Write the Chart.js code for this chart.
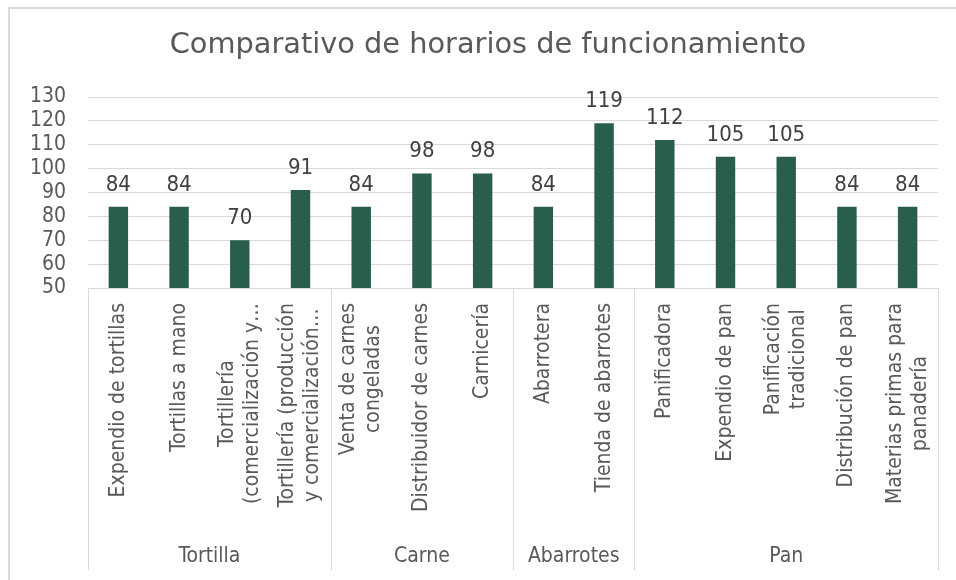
<!doctype html>
<html><head><meta charset="utf-8">
<title>Comparativo de horarios de funcionamiento</title>
<script src="https://cdn.jsdelivr.net/npm/chart.js"></script>
<style>
  html, body { margin: 0; padding: 0; background: #fff; overflow: hidden; }
  #wrap { width: 956px; height: 580px; position: relative; }
</style>
</head><body>
<div id="wrap"><canvas id="horarios"></canvas></div>
<script>
// categories (each entry is the lines of one label), groups and values
const categories = [
  ['Expendio de tortillas'],
  ['Tortillas a mano'],
  ['Tortillería', '(comercialización y…'],
  ['Tortillería (producción', 'y comercialización…'],
  ['Venta de carnes', 'congeladas'],
  ['Distribuidor de carnes'],
  ['Carnicería'],
  ['Abarrotera'],
  ['Tienda de abarrotes'],
  ['Panificadora'],
  ['Expendio de pan'],
  ['Panificación', 'tradicional'],
  ['Distribución de pan'],
  ['Materias primas para', 'panadería']
];
const groups = ['Tortilla', 'Carne', 'Abarrotes', 'Pan'];
const groupSizes = [4, 3, 2, 5];
const horas = [84, 84, 70, 91, 84, 98, 98, 84, 119, 112, 105, 105, 84, 84];
const yMin = 50, yMax = 130, yStep = 10;
const chartTitle = 'Comparativo de horarios de funcionamiento';

const FONT = "'DejaVu Sans', sans-serif";
const FONT_C = "'DejaVu Sans Condensed', 'DejaVu Sans', sans-serif";
const gridGray = '#d9d9d9';
const textGray = '#595959';

// frame, title, value labels, rotated category labels and the group row
const excelAxis = {
  id: 'excelAxis',
  beforeDraw(chart) {
    const ctx = chart.ctx;
    ctx.save();
    ctx.strokeStyle = gridGray;
    ctx.lineWidth = 2;
    ctx.beginPath();
    ctx.moveTo(9, chart.height);
    ctx.lineTo(9, 8);
    ctx.lineTo(chart.width, 8);
    ctx.stroke();
    ctx.fillStyle = textGray;
    ctx.font = '28.8px ' + FONT;
    ctx.textAlign = 'center';
    ctx.textBaseline = 'middle';
    ctx.fillText(chartTitle, 488, 46);
    ctx.restore();
  },
  afterDatasetsDraw(chart) {
    const ctx = chart.ctx;
    const meta = chart.getDatasetMeta(0);
    ctx.save();
    ctx.fillStyle = '#404040';
    ctx.font = '22px ' + FONT_C;
    ctx.textAlign = 'center';
    ctx.textBaseline = 'alphabetic';
    meta.data.forEach((bar, i) => {
      ctx.fillText(String(horas[i]), bar.x, bar.y - 16);
    });
    ctx.restore();
  },
  afterDraw(chart) {
    const ctx = chart.ctx;
    const x = chart.scales.x;
    const area = chart.chartArea;
    const bottom = 570;
    ctx.save();
    // category labels, rotated, text end 15px below the axis
    ctx.fillStyle = textGray;
    ctx.font = '21px ' + FONT_C;
    const lh = 25;
    categories.forEach((lines, i) => {
      const cx = x.getPixelForValue(i);
      const maxW = Math.max(...lines.map(l => ctx.measureText(l).width));
      ctx.save();
      ctx.translate(cx, area.bottom + 15);
      ctx.rotate(-Math.PI / 2);
      ctx.textAlign = 'center';
      ctx.textBaseline = 'middle';
      lines.forEach((l, j) => {
        ctx.fillText(l, -maxW / 2, (j - (lines.length - 1) / 2) * lh);
      });
      ctx.restore();
    });
    // group separators and names
    ctx.strokeStyle = gridGray;
    ctx.lineWidth = 1;
    const edges = [area.left];
    let k = 0;
    groupSizes.forEach((n, g) => {
      k += n;
      edges.push(g === groupSizes.length - 1 ? area.right
        : (x.getPixelForValue(k - 1) + x.getPixelForValue(k)) / 2);
    });
    edges.forEach(e => {
      const px = Math.round(e) + 0.5;
      ctx.beginPath();
      ctx.moveTo(px, area.bottom);
      ctx.lineTo(px, bottom);
      ctx.stroke();
    });
    ctx.font = '21px ' + FONT_C;
    ctx.textAlign = 'center';
    ctx.textBaseline = 'middle';
    groups.forEach((gname, g) => {
      ctx.fillText(gname, (edges[g] + edges[g + 1]) / 2, 557);
    });
    ctx.restore();
  }
};

new Chart(document.getElementById('horarios'), {
  type: 'bar',
  data: {
    labels: categories,
    datasets: [{
      label: 'Horas',
      data: horas,
      backgroundColor: '#295E4C',
      borderWidth: 0,
      barPercentage: 0.32,
      categoryPercentage: 1
    }]
  },
  options: {
    responsive: true,
    maintainAspectRatio: false,
    animation: false,
    layout: { padding: { left: 8, right: 18, top: 97, bottom: 0 } },
    plugins: {
      legend: { display: false },
      tooltip: { enabled: false },
      title: { display: false }
    },
    scales: {
      x: {
        grid: { display: false },
        border: { display: true, color: gridGray },
        ticks: { display: false },
        afterFit(scale) { scale.height = 292; }
      },
      y: {
        min: yMin,
        max: yMax,
        ticks: {
          stepSize: yStep,
          autoSkip: false,
          color: textGray,
          padding: 22,
          font: { family: FONT_C, size: 21, lineHeight: 1 }
        },
        grid: { color: gridGray, drawTicks: false },
        border: { display: false },
        afterFit(scale) { scale.width = 80; }
      }
    }
  },
  plugins: [excelAxis]
});
</script>
</body></html>
